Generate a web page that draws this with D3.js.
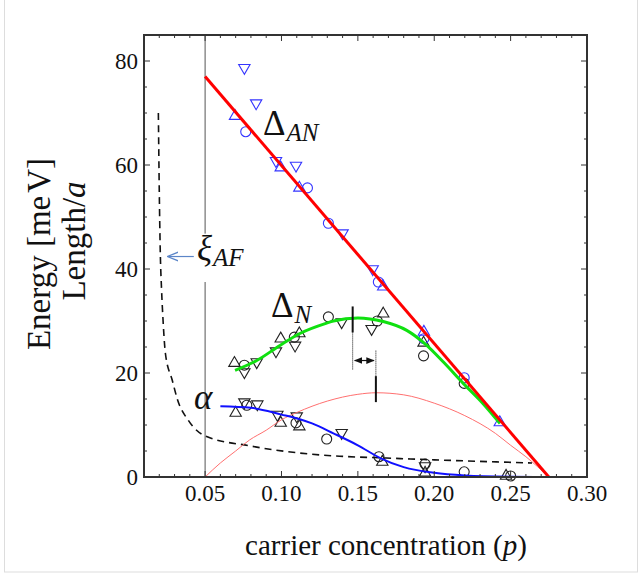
<!DOCTYPE html>
<html>
<head>
<meta charset="utf-8">
<script src="https://cdn.jsdelivr.net/npm/d3@7"></script>
<style>
  body { margin: 0; background: #fff; }
  text { font-family: "Liberation Serif", "DejaVu Serif", serif; fill: #111; }
</style>
</head>
<body>
<div id="chart"></div>
<script>
// curves
var anLine = [[0.05, 77], [0.275, 0]];
var nCurve = [[0.0696, 20.5], [0.0838, 22.4], [0.099, 25.3], [0.112, 27.6], [0.1296, 29.6], [0.134, 30.0],
  [0.15, 30.6], [0.1666, 29.9], [0.182, 28.2], [0.194, 25.6], [0.206, 22.1], [0.219, 18.0], [0.232, 14.1], [0.243, 10.3]];
var alphaCurve = [[0.060, 13.6], [0.08, 13.3], [0.10, 12.0], [0.112, 11.1], [0.12, 10.3], [0.134, 8.4], [0.15, 6.1],
  [0.165, 3.6], [0.18, 1.9], [0.20, 0.8], [0.22, 0.3], [0.25, 0.05], [0.275, 0]];
var domeCurve = [[0.05, 0], [0.06, 2.7], [0.07, 5.0], [0.079, 7.1], [0.09, 9.0], [0.10, 11.0], [0.11, 12.4], [0.13, 14.6],
  [0.15, 15.9], [0.162, 16.2], [0.18, 15.8], [0.20, 14.2], [0.22, 11.8], [0.24, 8.4], [0.25, 6.1], [0.26, 3.9], [0.275, 0]];
var xiCurve = [[0.0194, 70], [0.0200, 55], [0.0206, 44], [0.0215, 36], [0.0225, 30], [0.024, 23.8], [0.0285, 18.6],
  [0.032, 14.8], [0.039, 10.9], [0.050, 7.9], [0.079, 6.0], [0.112, 4.6], [0.138, 4.0], [0.164, 3.7], [0.20, 3.3], [0.264, 2.7]];

// Delta_AN points (blue)
var anCircle = [[0.0766, 66.4], [0.117, 55.6], [0.1307, 48.8], [0.1634, 37.5], [0.1932, 26.6], [0.2196, 19.1]];
var anUp = [[0.0696, 69.4], [0.0995, 59.5], [0.1117, 55.6], [0.1666, 36.6], [0.1932, 27.9], [0.2429, 10.5]];
var anDown = [[0.0757, 78.7], [0.0834, 71.9], [0.0964, 60.8], [0.1095, 59.9], [0.140, 46.9], [0.1597, 40.0]];
// Delta_N points (black)
var nCircle = [[0.0757, 21.5], [0.1084, 26.9], [0.1307, 30.8], [0.1627, 30.0], [0.193, 23.3], [0.2196, 18.0]];
var nUp = [[0.0692, 21.9], [0.0995, 26.6], [0.1117, 27.6], [0.1666, 31.4], [0.193, 25.8]];
var nDown = [[0.0757, 20.2], [0.0838, 22.1], [0.0964, 24.2], [0.1089, 25.3], [0.1394, 29.8], [0.159, 28.5]];
// alpha points (black)
var alCircle = [[0.0773, 13.8], [0.1095, 10.4], [0.1296, 7.3], [0.1638, 3.9], [0.194, 2.5], [0.2196, 1.0], [0.25, 0.2]];
var alUp = [[0.070, 12.3], [0.0995, 10.4], [0.1117, 9.7], [0.166, 2.9], [0.194, 0.8], [0.247, 0.2]];
var alDown = [[0.0757, 14.4], [0.0842, 14.0], [0.0973, 12.0], [0.110, 11.7], [0.1394, 8.5], [0.194, 2.1]];

var xTicks = [0.05, 0.10, 0.15, 0.20, 0.25, 0.30];
var yTicks = [0, 20, 40, 60, 80];
var peakN = 0.1466, peakDome = 0.1618;

var width = 642, height = 576;
var margin = {top: 35, right: 55, bottom: 99, left: 144};

var svg = d3.select("#chart").append("svg")
  .attr("width", width).attr("height", height);

svg.append("rect").attr("x", 4.5).attr("y", -1).attr("width", 633).attr("height", 573)
  .style("fill", "#fff").style("stroke", "#ddd");

var x = d3.scaleLinear().domain([0.01, 0.30]).range([margin.left, width - margin.right]);
var y = d3.scaleLinear().domain([0, 85]).range([height - margin.bottom, margin.top]);

var line = d3.line().x(function(d){ return x(d[0]); }).y(function(d){ return y(d[1]); });
var smooth = d3.line().curve(d3.curveMonotoneX)
  .x(function(d){ return x(d[0]); }).y(function(d){ return y(d[1]); });

// vertical line at p = 0.05 with a gap for the xi label
svg.append("path").datum([[0.05, 0], [0.05, 37.5]]).attr("d", line)
  .style("stroke", "#555").style("fill", "none");
svg.append("path").datum([[0.05, 46.8], [0.05, 85]]).attr("d", line)
  .style("stroke", "#555").style("fill", "none");

// markers
var tri = d3.symbol().type(d3.symbolTriangle).size(56);
function markers(data, shape, color) {
  var g = svg.append("g");
  if (shape == "circle") {
    g.selectAll("circle").data(data).enter().append("circle")
      .attr("cx", function(d){ return x(d[0]); }).attr("cy", function(d){ return y(d[1]); })
      .attr("r", 5).style("fill", "none").style("stroke", color).style("stroke-width", 1.1);
  } else {
    g.selectAll("path").data(data).enter().append("path")
      .attr("d", tri)
      .attr("transform", function(d){
        return "translate(" + x(d[0]) + "," + y(d[1]) + ")" + (shape == "down" ? " rotate(180)" : ""); })
      .style("fill", "none").style("stroke", color).style("stroke-width", 1.1);
  }
}
markers(nCircle, "circle", "#222"); markers(nUp, "up", "#222"); markers(nDown, "down", "#222");
markers(alCircle, "circle", "#222"); markers(alUp, "up", "#222"); markers(alDown, "down", "#222");
markers(anCircle, "circle", "#3535ff"); markers(anUp, "up", "#3535ff"); markers(anDown, "down", "#3535ff");

// curves
svg.append("path").datum(xiCurve).attr("d", smooth)
  .style("fill", "none").style("stroke", "#111").style("stroke-width", 1.6).style("stroke-dasharray", "7,5");
svg.append("path").datum(domeCurve).attr("d", smooth)
  .style("fill", "none").style("stroke", "#ff7070").style("stroke-width", 1);
svg.append("path").datum(alphaCurve).attr("d", smooth)
  .style("fill", "none").style("stroke", "#1010ff").style("stroke-width", 2);
svg.append("path").datum(nCurve).attr("d", smooth)
  .style("fill", "none").style("stroke", "#10e010").style("stroke-width", 3);
svg.append("path").datum(anLine).attr("d", line)
  .style("fill", "none").style("stroke", "#ff0000").style("stroke-width", 3);

// peak shift annotation
function seg(p, y0, y1, dotted, w) {
  svg.append("path").datum([[p, y0], [p, y1]]).attr("d", line)
    .style("stroke", "#111").style("stroke-width", w)
    .style("stroke-dasharray", dotted ? "1,1" : null);
}
seg(peakN, 32.8, 27.8, false, 2);
seg(peakN, 27.8, 20.5, true, 1);
seg(peakDome, 24.3, 19.4, true, 1);
seg(peakDome, 19.4, 14.4, false, 2);

var defs = svg.append("defs");
defs.append("marker").attr("id", "ah").attr("viewBox", "0 0 10 10").attr("refX", 9).attr("refY", 5)
  .attr("markerWidth", 7).attr("markerHeight", 7).attr("orient", "auto-start-reverse")
  .append("path").attr("d", "M0,1 L10,5 L0,9 Z").style("fill", "#111");
defs.append("marker").attr("id", "ahb").attr("viewBox", "0 0 10 10").attr("refX", 9).attr("refY", 5)
  .attr("markerWidth", 9).attr("markerHeight", 9).attr("orient", "auto")
  .append("path").attr("d", "M0,1 L10,5 L0,9").style("fill", "none").style("stroke", "#5c86c8").style("stroke-width", 1.2);

svg.append("line").attr("x1", x(peakN) + 2).attr("x2", x(peakDome) - 2)
  .attr("y1", y(22.4)).attr("y2", y(22.4))
  .style("stroke", "#111").style("stroke-width", 1.2)
  .attr("marker-start", "url(#ah)").attr("marker-end", "url(#ah)");

// xi arrow
svg.append("line").attr("x1", x(0.0426)).attr("x2", x(0.0260)).attr("y1", y(42.4)).attr("y2", y(42.4))
  .style("stroke", "#5c86c8").style("stroke-width", 1.2).attr("marker-end", "url(#ahb)");

// frame and ticks
var g = svg.append("g");
g.append("rect").attr("x", x(0.01)).attr("y", y(85))
  .attr("width", x(0.30) - x(0.01)).attr("height", y(0) - y(85))
  .style("fill", "none").style("stroke", "#333").style("stroke-width", 2);

var xMinor = d3.range(2, 30).map(function(i){ return i / 100; });
var yMinor = d3.range(5, 85, 5);
xMinor.forEach(function(v){
  var major = Math.round(v * 100) % 5 == 0, len = major ? 6 : 3;
  g.append("line").attr("x1", x(v)).attr("x2", x(v)).attr("y1", y(0)).attr("y2", y(0) - len).style("stroke", "#333");
  g.append("line").attr("x1", x(v)).attr("x2", x(v)).attr("y1", y(85)).attr("y2", y(85) + len).style("stroke", "#333");
});
yMinor.forEach(function(v){
  var len = v % 20 == 0 ? 6 : 3;
  g.append("line").attr("x1", x(0.01)).attr("x2", x(0.01) + len).attr("y1", y(v)).attr("y2", y(v)).style("stroke", "#333");
  g.append("line").attr("x1", x(0.30)).attr("x2", x(0.30) - len).attr("y1", y(v)).attr("y2", y(v)).style("stroke", "#333");
});

svg.selectAll(".xt").data(xTicks).enter().append("text")
  .attr("x", function(d){ return x(d); }).attr("y", 501)
  .attr("text-anchor", "middle").style("font-size", "23px")
  .text(function(d){ return d.toFixed(2); });
svg.selectAll(".yt").data(yTicks).enter().append("text")
  .attr("x", 138).attr("y", function(d){ return y(d) + 8; })
  .attr("text-anchor", "end").style("font-size", "23px")
  .text(function(d){ return d; });

// axis titles
svg.append("text").attr("x", 386).attr("y", 555).attr("text-anchor", "middle")
  .style("font-size", "29px")
  .html('carrier concentration (<tspan font-style="italic">p</tspan>)');
svg.append("text").attr("transform", "translate(50,254) rotate(-90)").attr("text-anchor", "middle")
  .style("font-size", "33px").html('Energy [me<tspan dx="3">V]</tspan>');
svg.append("text").attr("transform", "translate(85,241) rotate(-90)").attr("text-anchor", "middle")
  .style("font-size", "33px").html('Length/<tspan font-style="italic">a</tspan>');

// curve labels
function label(px, py, main, sub, italicMain) {
  var t = svg.append("text").attr("x", px).attr("y", py).style("font-size", "35px");
  t.append("tspan").text(main).style("font-style", italicMain ? "italic" : "normal");
  if (sub) t.append("tspan").attr("dy", 6).attr("dx", 1).style("font-size", "25px").style("font-style", "italic").text(sub);
}
label(263, 135, "\u0394", "AN", false);
label(271, 317, "\u0394", "N", false);
label(197, 260, "\u03BE", "AF", true);
label(194, 409, "\u03B1", null, true);
</script>
</body>
</html>
